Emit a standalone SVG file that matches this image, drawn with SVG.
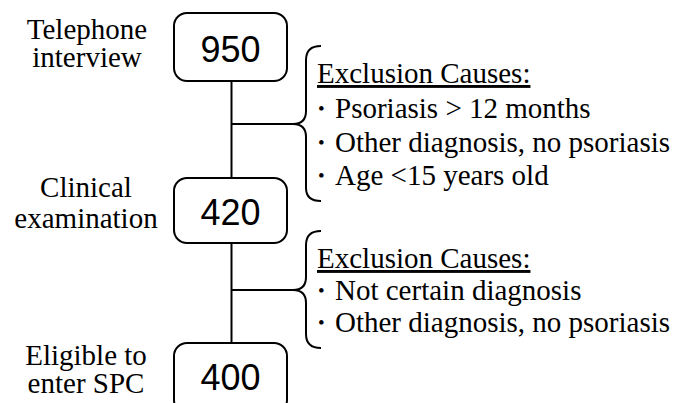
<svg xmlns="http://www.w3.org/2000/svg" width="679" height="403" viewBox="0 0 679 403">
<style>
.box{fill:#fff;stroke:#000;stroke-width:2}
.num{font-family:"Liberation Sans",Arial,sans-serif;font-size:36px;text-anchor:middle;fill:#000}
.lbl{font-family:"Liberation Serif","Times New Roman",serif;font-size:29px;text-anchor:middle;fill:#000}
.lst{font-family:"Liberation Serif","Times New Roman",serif;font-size:29px;fill:#000}
.bul{font-family:"Liberation Serif","Times New Roman",serif;font-size:19px;fill:#000}
.ln{fill:none;stroke:#000;stroke-width:2}
</style>
<rect width="679" height="403" fill="#fff"/>
<g id="connectors">
<line class="ln" x1="231.5" y1="81" x2="231.5" y2="178"/>
<line class="ln" x1="231.5" y1="243" x2="231.5" y2="343"/>
<line class="ln" x1="231.5" y1="124" x2="294" y2="124"/>
<line class="ln" x1="231.5" y1="290" x2="294" y2="290"/>
<path class="ln" d="M321,46 Q306,46 306,60 L306,111 Q306,124 293,124 Q306,124 306,137 L306,188 Q306,201 321,201"/>
<path class="ln" d="M321,231 Q306,231 306,245 L306,277 Q306,290 293,290 Q306,290 306,303 L306,334 Q306,348 321,348"/>
</g>
<g id="node-950">
<rect class="box" x="174" y="13" width="113" height="68" rx="13"/>
<text class="num" x="230.5" y="62">950</text>
<text class="lbl" x="87" y="39">Telephone<tspan x="87" y="67">interview</tspan></text>
</g>
<g id="node-420">
<rect class="box" x="174" y="178" width="113" height="65" rx="13"/>
<text class="num" x="230.5" y="225">420</text>
<text class="lbl" x="86" y="197">Clinical<tspan x="86" y="228">examination</tspan></text>
</g>
<g id="node-400">
<rect class="box" x="174" y="343" width="113" height="70" rx="13"/>
<text class="num" x="230.5" y="390">400</text>
<text class="lbl" x="86" y="365">Eligible to<tspan x="86" y="393">enter SPC</tspan></text>
</g>
<g id="exclusion-1">
<text class="lst" x="317" y="83" text-decoration="underline">Exclusion Causes:</text>
<text class="bul" x="318" y="115">•</text><text class="lst" x="335" y="118">Psoriasis &gt; 12 months</text>
<text class="bul" x="318" y="149">•</text><text class="lst" x="335" y="152">Other diagnosis, no psoriasis</text>
<text class="bul" x="318" y="182">•</text><text class="lst" x="335" y="185">Age &lt;15 years old</text>
</g>
<g id="exclusion-2">
<text class="lst" x="317" y="268" text-decoration="underline">Exclusion Causes:</text>
<text class="bul" x="318" y="297">•</text><text class="lst" x="335" y="300">Not certain diagnosis</text>
<text class="bul" x="318" y="329">•</text><text class="lst" x="335" y="332">Other diagnosis, no psoriasis</text>
</g>
</svg>
